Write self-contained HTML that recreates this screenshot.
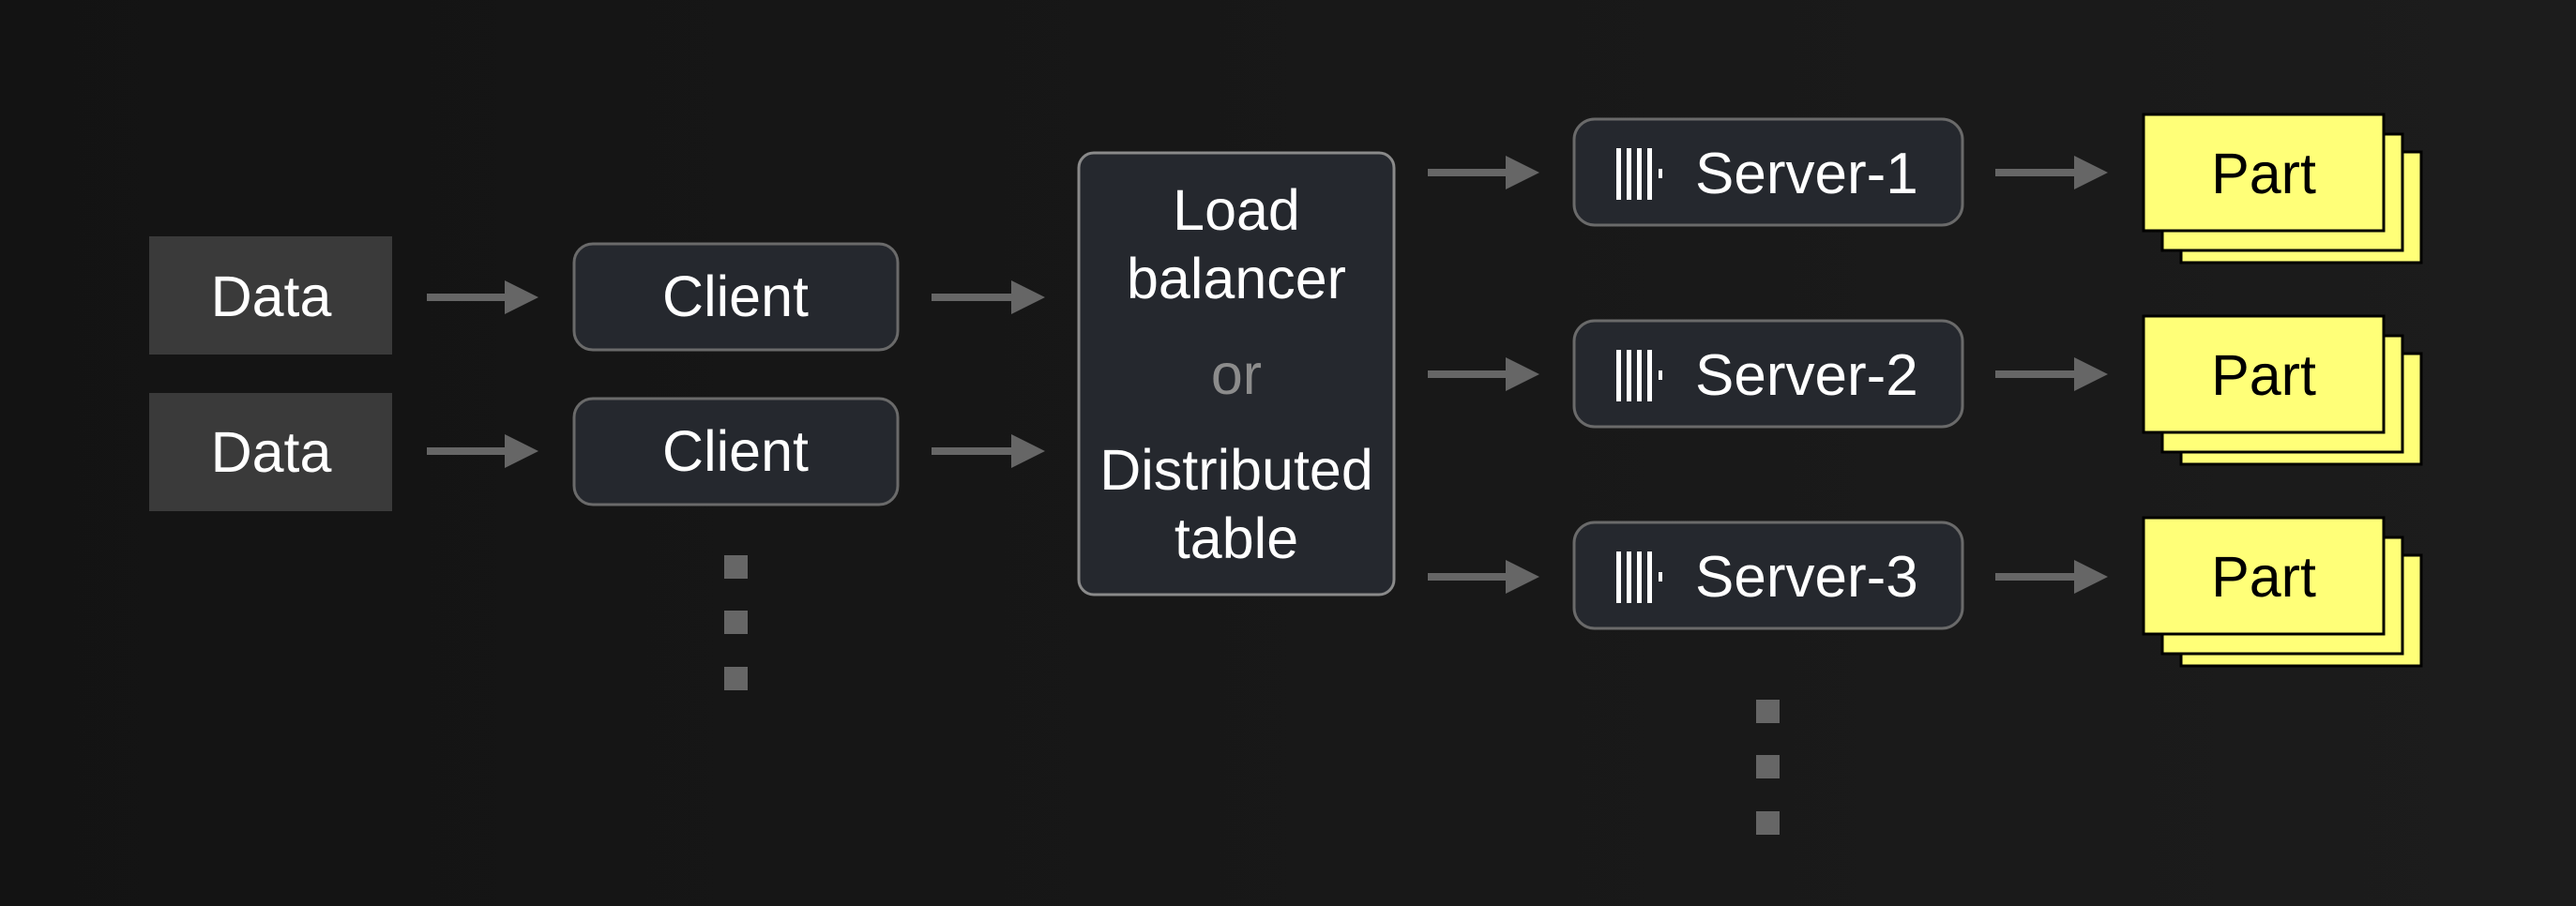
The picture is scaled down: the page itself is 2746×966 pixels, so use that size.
<!DOCTYPE html>
<html><head><meta charset="utf-8"><style>
html,body{margin:0;padding:0;background:#171717;}
svg{display:block;}
text{font-family:"Liberation Sans",Arial,sans-serif;}
</style></head><body>
<svg width="2746" height="966" viewBox="0 0 2746 966" xmlns="http://www.w3.org/2000/svg">
<defs>
<linearGradient id="bg" x1="0" x2="1" y1="0" y2="0"><stop offset="0" stop-color="#131313"/><stop offset="1" stop-color="#1c1c1c"/></linearGradient>
</defs>
<rect width="2746" height="966" fill="url(#bg)"/>
<g fill="#666">
<rect x="455" y="313" width="85" height="8"/><polygon points="538,299 574,317 538,335"/>
<rect x="455" y="477" width="85" height="8"/><polygon points="538,463 574,481 538,499"/>
<rect x="993" y="313" width="85" height="8"/><polygon points="1078,299 1114,317 1078,335"/>
<rect x="993" y="477" width="85" height="8"/><polygon points="1078,463 1114,481 1078,499"/>
<rect x="1522" y="180" width="85" height="8"/><polygon points="1605,166 1641,184 1605,202"/>
<rect x="1522" y="395" width="85" height="8"/><polygon points="1605,381 1641,399 1605,417"/>
<rect x="1522" y="611" width="85" height="8"/><polygon points="1605,597 1641,615 1605,633"/>
<rect x="2127" y="180" width="85" height="8"/><polygon points="2211,166 2247,184 2211,202"/>
<rect x="2127" y="395" width="85" height="8"/><polygon points="2211,381 2247,399 2211,417"/>
<rect x="2127" y="611" width="85" height="8"/><polygon points="2211,597 2247,615 2211,633"/>
<rect x="772" y="592" width="25" height="25"/><rect x="772" y="651" width="25" height="25"/><rect x="772" y="711" width="25" height="25"/>
<rect x="1872" y="746" width="25" height="25"/><rect x="1872" y="805" width="25" height="25"/><rect x="1872" y="865" width="25" height="25"/>
</g>
<rect x="159" y="252" width="259" height="126" fill="#3a3a3a"/>
<rect x="159" y="419" width="259" height="126" fill="#3a3a3a"/>
<text x="289" y="337" font-size="61" fill="#fff" text-anchor="middle">Data</text>
<text x="289" y="503" font-size="61" fill="#fff" text-anchor="middle">Data</text>
<rect x="612" y="260" width="345" height="113" rx="20" fill="#25282e" stroke="#6a6a6a" stroke-width="3"/>
<rect x="612" y="425" width="345" height="113" rx="20" fill="#25282e" stroke="#6a6a6a" stroke-width="3"/>
<text x="784" y="337" font-size="61" fill="#fff" text-anchor="middle">Client</text>
<text x="784" y="502" font-size="61" fill="#fff" text-anchor="middle">Client</text>
<rect x="1150" y="163" width="336" height="471" rx="16" fill="#25282e" stroke="#8a8a8a" stroke-width="3"/>
<g font-size="61" fill="#fff" text-anchor="middle">
<text x="1318" y="245">Load</text>
<text x="1318" y="318">balancer</text>
<text x="1318" y="420" fill="#8c8c8c">or</text>
<text x="1318" y="522">Distributed</text>
<text x="1318" y="595">table</text>
</g>
<rect x="1678" y="127" width="414" height="113" rx="22" fill="#25282e" stroke="#6a6a6a" stroke-width="3"/>
<rect x="1678" y="342" width="414" height="113" rx="22" fill="#25282e" stroke="#6a6a6a" stroke-width="3"/>
<rect x="1678" y="557" width="414" height="113" rx="22" fill="#25282e" stroke="#6a6a6a" stroke-width="3"/>
<g fill="#fff">
<rect x="1723" y="158" width="5" height="55"/><rect x="1734" y="158" width="5" height="55"/><rect x="1745" y="158" width="5" height="55"/><rect x="1756" y="158" width="5" height="55"/><rect x="1768" y="180" width="4" height="10"/>
<rect x="1723" y="373" width="5" height="55"/><rect x="1734" y="373" width="5" height="55"/><rect x="1745" y="373" width="5" height="55"/><rect x="1756" y="373" width="5" height="55"/><rect x="1768" y="395" width="4" height="10"/>
<rect x="1723" y="588" width="5" height="55"/><rect x="1734" y="588" width="5" height="55"/><rect x="1745" y="588" width="5" height="55"/><rect x="1756" y="588" width="5" height="55"/><rect x="1768" y="610" width="4" height="10"/>
</g>
<g font-size="62" fill="#fff">
<text x="1807" y="206">Server-1</text>
<text x="1807" y="421">Server-2</text>
<text x="1807" y="636">Server-3</text>
</g>
<g fill="#ffff78" stroke="#000" stroke-width="3">
<rect x="2325" y="162" width="256" height="118"/><rect x="2305" y="143" width="256" height="124"/><rect x="2285" y="122" width="256" height="124"/>
<rect x="2325" y="377" width="256" height="118"/><rect x="2305" y="358" width="256" height="124"/><rect x="2285" y="337" width="256" height="124"/>
<rect x="2325" y="592" width="256" height="118"/><rect x="2305" y="573" width="256" height="124"/><rect x="2285" y="552" width="256" height="124"/>
</g>
<g font-size="61" fill="#000" text-anchor="middle">
<text x="2413" y="206">Part</text>
<text x="2413" y="421">Part</text>
<text x="2413" y="636">Part</text>
</g>
</svg>
</body></html>
